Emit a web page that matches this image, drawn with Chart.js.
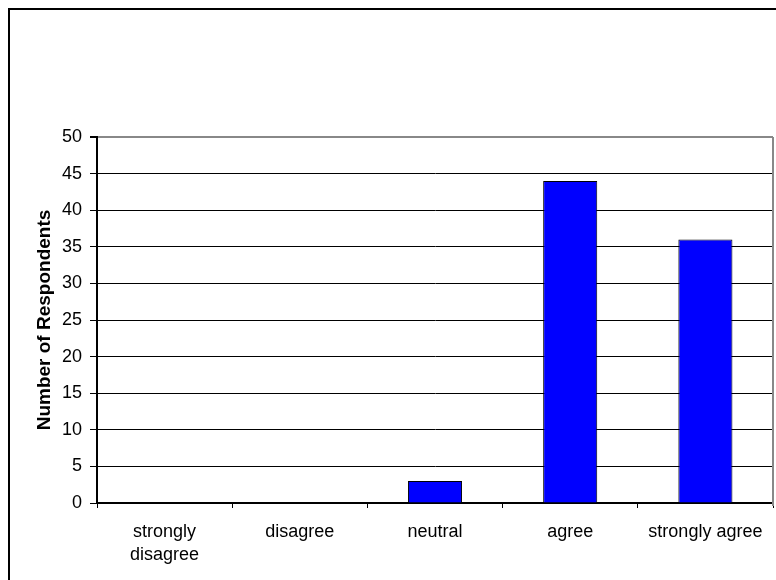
<!DOCTYPE html>
<html>
<head>
<meta charset="utf-8">
<script src="https://cdn.jsdelivr.net/npm/chart.js@4/dist/chart.umd.min.js"></script>
<style>
html, body { margin: 0; padding: 0; background: #fff; overflow: hidden; }
#wrap { position: relative; width: 776px; height: 580px; }
</style>
</head>
<body>
<div id="wrap"><canvas id="barChart" width="776" height="580"></canvas></div>
<script>
var categories = [["strongly", "disagree"], "disagree", "neutral", "agree", "strongly agree"];
var respondents = [0, 0, 3, 44, 36];
var yTicks = [0, 5, 10, 15, 20, 25, 30, 35, 40, 45, 50];
var yTitle = "Number of Respondents";

// outer frame (only top and left edges are inside the picture)
var framePlugin = {
  id: 'frame',
  afterDraw: function (chart) {
    var c = chart.ctx;
    c.save();
    c.strokeStyle = '#000';
    c.lineWidth = 2;
    c.beginPath();
    c.moveTo(9, 590);
    c.lineTo(9, 9);
    c.lineTo(790, 9);
    c.stroke();
    // right side of plot area
    var a = chart.chartArea;
    c.strokeStyle = '#888';
    c.lineWidth = 2;
    c.beginPath();
    c.moveTo(a.right, a.top);
    c.lineTo(a.right, a.bottom + 3);
    c.stroke();
    c.restore();
  }
};

Chart.defaults.font.family = "'Liberation Sans', Arial, sans-serif";
Chart.defaults.color = '#000';

var ctx = document.getElementById("barChart");
var barChart = new Chart(ctx, {
  type: 'bar',
  data: {
    labels: categories,
    datasets: [{
      label: yTitle,
      data: respondents,
      backgroundColor: "#0000ff",
      borderColor: "#000",
      borderWidth: 1,
      barPercentage: 0.4,
      categoryPercentage: 1
    }]
  },
  options: {
    responsive: false,
    animation: false,
    layout: { padding: { left: 25, right: 3, top: 137, bottom: 0 } },
    plugins: {
      legend: { display: false },
      tooltip: { enabled: false }
    },
    scales: {
      y: {
        min: 0,
        max: 50,
        afterFit: function (scale) { scale.width = 72; },
        afterBuildTicks: function (scale) {
          scale.ticks = yTicks.map(function (v) { return { value: v }; });
        },
        ticks: { font: { size: 18 }, padding: 8 },
        grid: {
          color: function (c) { return c.tick && c.tick.value === 50 ? '#888' : '#000'; },
          lineWidth: function (c) { return c.tick && c.tick.value === 50 ? 2 : 1; },
          tickColor: '#000',
          tickLength: 7
        },
        border: { color: '#000', width: 2 },
        title: {
          display: true,
          text: yTitle,
          font: { size: 19, weight: 'bold' },
          padding: { top: 8, bottom: 0 }
        }
      },
      x: {
        afterFit: function (scale) { scale.height = 77; },
        ticks: { font: { size: 18, lineHeight: 1.3 }, padding: 12, maxRotation: 0, autoSkip: false },
        grid: {
          offset: true,
          drawOnChartArea: false,
          color: '#000',
          tickColor: '#000',
          tickLength: 5
        },
        border: { color: '#000', width: 2 }
      }
    }
  },
  plugins: [framePlugin]
});
</script>
</body>
</html>
